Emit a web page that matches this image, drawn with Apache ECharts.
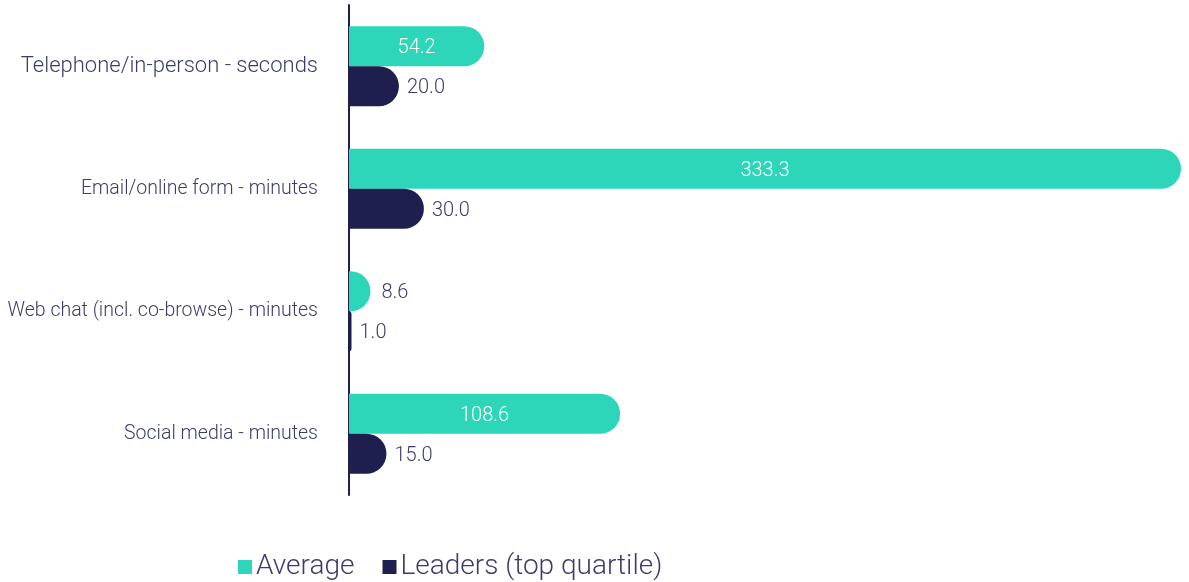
<!DOCTYPE html>
<html><head><meta charset="utf-8">
<script src="https://cdn.jsdelivr.net/npm/echarts@6/dist/echarts.min.js"></script>
<style>html,body{margin:0;padding:0;background:#fff}#c{width:1189px;height:582px}</style>
</head><body><div id="c"></div>
<script>
const categories = ["Telephone/in-person - seconds", "Email/online form - minutes", "Web chat (incl. co-browse) - minutes", "Social media - minutes"];
const averageValues = [54.2, 333.3, 8.6, 108.6];
const leaderValues = [20.0, 30.0, 1.0, 15.0];
const averageLabelInside = [true, true, false, true];
const seriesNames = ["Average", "Leaders (top quartile)"];

const teal = "#2dd6b9", navy = "#1f1f4f", textCol = "#3a3d6c";
const font = "Roboto";

const avgData = averageValues.map((v, i) => ({
  value: v,
  label: averageLabelInside[i]
    ? { position: "inside", color: "#ffffff" }
    : { position: "right", color: textCol, distance: 11 }
}));

const chart = echarts.init(document.getElementById('c'), null, { renderer: 'canvas' });
chart.setOption({
  animation: false,
  textStyle: { fontFamily: font },
  grid: { left: 349, right: 8, top: 5, bottom: 87, containLabel: false },
  legend: {
    top: 548, left: 233,
    itemWidth: 14, itemHeight: 14, itemGap: 28,
    icon: 'rect',
    textStyle: { fontFamily: font, fontWeight: 300, fontSize: 28, color: textCol, padding: [0, 0, 0, -1] },
    data: seriesNames
  },
  xAxis: {
    type: 'value', min: 0, max: 'dataMax',
    show: false
  },
  yAxis: {
    type: 'category', inverse: true, data: categories,
    axisLine: { show: true, lineStyle: { color: navy, width: 2 } },
    axisTick: { show: false },
    axisLabel: {
      fontFamily: font, fontWeight: 300, fontSize: 19.5, color: textCol, margin: 31,
      formatter: (v, i) => i === 0 ? '{w|' + v + '}' : v,
      rich: { w: { fontFamily: font, fontWeight: 300, fontSize: 22, color: textCol } }
    }
  },
  series: [
    {
      name: seriesNames[0], type: 'bar', barWidth: 40, barGap: '0%',
      itemStyle: { color: teal, borderRadius: [0, 20, 20, 0] },
      label: { show: true, offset: [0, 2], fontFamily: font, fontWeight: 300, fontSize: 20, formatter: p => p.value.toFixed(1) },
      data: avgData
    },
    {
      name: seriesNames[1], type: 'bar', barWidth: 40, barGap: '0%',
      itemStyle: { color: navy, borderRadius: [0, 20, 20, 0] },
      label: { show: true, offset: [0, 2], position: 'right', distance: 8, color: textCol, fontFamily: font, fontWeight: 300, fontSize: 20, formatter: p => p.value.toFixed(1) },
      data: leaderValues
    }
  ]
});
</script></body></html>
